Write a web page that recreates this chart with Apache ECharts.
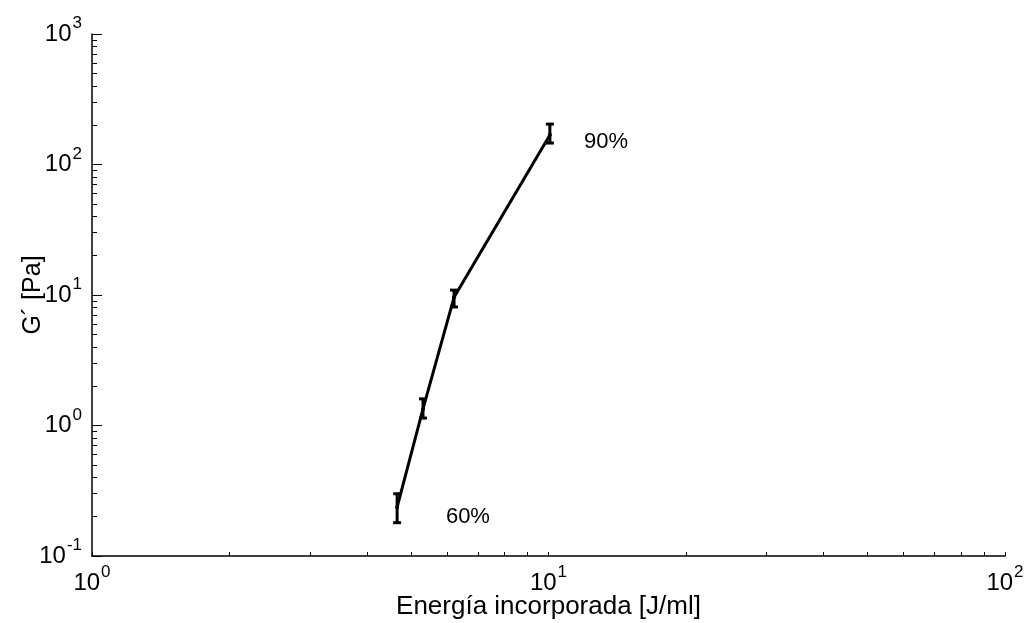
<!DOCTYPE html>
<html>
<head>
<meta charset="utf-8">
<script src="https://cdn.jsdelivr.net/npm/echarts@6/dist/echarts.min.js"></script>
<style>html,body{margin:0;padding:0;background:#fff;}#c{width:1024px;height:623px;}</style>
</head>
<body>
<div id="c"></div>
<script>
// Data
var energy = [4.66, 5.31, 6.21, 10.07];          // Energía incorporada [J/ml]
var gPrime = [0.237, 1.34, 9.6, 168];            // G´ [Pa]
var gLow   = [0.18, 1.14, 8.1, 146];
var gHigh  = [0.30, 1.60, 10.9, 204];
var annotText = ['90%', '60%'];
var annotX = [13.36, 6.66];
var annotY = [148.6, 0.199];
var xMajor = [1, 10, 100];
var xMinor = [2, 3, 4, 5, 6, 7, 8, 9, 20, 30, 40, 50, 60, 70, 80, 90];
var yMajor = [0.1, 1, 10, 100, 1000];
var yMinor = [0.2,0.3,0.4,0.5,0.6,0.7,0.8,0.9,2,3,4,5,6,7,8,9,20,30,40,50,60,70,80,90,200,300,400,500,600,700,800,900];
var xTitle = 'Energía incorporada [J/ml]';
var yTitle = 'G´ [Pa]';

var FONT = '"Liberation Sans", Arial, sans-serif';
function powLabel(v) {
  var e = Math.round(Math.log(v) / Math.LN10);
  return '{a|10}{b|' + e + '}';
}
var rich = {
  a: { fontFamily: FONT, fontSize: 24, color: '#000', lineHeight: 38 },
  b: { fontFamily: FONT, fontSize: 17, color: '#000', lineHeight: 38, verticalAlign: 'top', padding: [0, 0, 0, 1] }
};

var chart = echarts.init(document.getElementById('c'));
var lineData = energy.map(function (x, i) { return [x, gPrime[i]]; });
var errData = energy.map(function (x, i) { return [x, gLow[i], gHigh[i]]; });
var annData = annotText.map(function (t, i) { return { value: [annotX[i], annotY[i]], name: t }; });

chart.setOption({
  animation: false,
  backgroundColor: '#fff',
  grid: { left: 92, right: 19, top: 34, bottom: 67, containLabel: false, outerBoundsMode: 'none' },
  xAxis: [{
    type: 'log', logBase: 10, min: 1, max: 100,
    name: xTitle, nameLocation: 'middle', nameGap: 38, nameMoveOverlap: false,
    nameTextStyle: { fontFamily: FONT, fontSize: 26, color: '#000' },
    axisLine: { show: true, lineStyle: { color: '#000', width: 1.5 } },
    axisTick: { show: true, inside: true, length: 4, customValues: xMajor.concat(xMinor), lineStyle: { color: '#000', width: 1 } },
    axisLabel: { show: true, customValues: xMajor, formatter: powLabel, rich: rich, margin: 8, color: '#000' },
    splitLine: { show: false }
  }],
  yAxis: [{
    type: 'log', logBase: 10, min: 0.1, max: 1000,
    name: yTitle, nameLocation: 'middle', nameGap: 46, nameRotate: 90, nameMoveOverlap: false,
    nameTextStyle: { fontFamily: FONT, fontSize: 25, color: '#000' },
    axisLine: { show: true, lineStyle: { color: '#000', width: 1.5 } },
    axisTick: { show: true, inside: true, length: 10, customValues: yMajor, lineStyle: { color: '#000', width: 1 } },
    axisLabel: { show: true, customValues: yMajor, formatter: powLabel, rich: rich, margin: 10, color: '#000' },
    splitLine: { show: false }
  }, {
    type: 'log', logBase: 10, min: 0.1, max: 1000, position: 'left',
    axisLine: { show: false },
    axisTick: { show: true, inside: true, length: 5, customValues: yMinor, lineStyle: { color: '#000', width: 1 } },
    axisLabel: { show: false },
    splitLine: { show: false }
  }],
  series: [{
    type: 'line', data: lineData, xAxisIndex: 0, yAxisIndex: 0,
    symbol: 'circle', symbolSize: 4,
    itemStyle: { color: '#000' },
    lineStyle: { color: '#000', width: 3 },
    z: 3
  }, {
    type: 'custom', data: errData, xAxisIndex: 0, yAxisIndex: 0,
    renderItem: function (params, api) {
      var lo = api.coord([api.value(0), api.value(1)]);
      var hi = api.coord([api.value(0), api.value(2)]);
      var w = 4;
      var st = { stroke: '#000', lineWidth: 3 };
      return { type: 'group', children: [
        { type: 'line', shape: { x1: lo[0], y1: lo[1], x2: hi[0], y2: hi[1] }, style: st },
        { type: 'line', shape: { x1: lo[0] - w, y1: lo[1], x2: lo[0] + w, y2: lo[1] }, style: st },
        { type: 'line', shape: { x1: hi[0] - w, y1: hi[1], x2: hi[0] + w, y2: hi[1] }, style: st }
      ]};
    },
    z: 4
  }, {
    type: 'scatter', data: annData, symbolSize: 1, itemStyle: { opacity: 0 },
    label: { show: true, position: 'inside', formatter: '{b}', fontFamily: FONT, fontSize: 22, color: '#000', opacity: 1 },
    z: 5
  }]
});
</script>
</body>
</html>
